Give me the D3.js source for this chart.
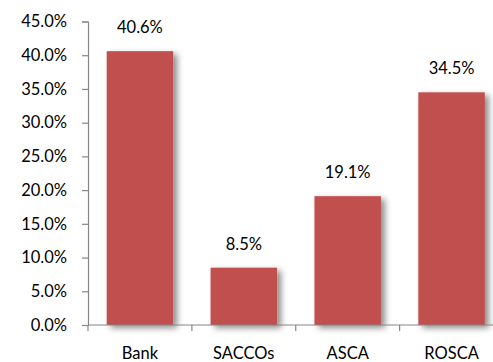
<!DOCTYPE html>
<html>
<head>
<meta charset="utf-8">
<script src="https://cdn.jsdelivr.net/npm/d3@7"></script>
<style>
  html, body { margin: 0; padding: 0; background: #fff; }
  svg { display: block; }
  text { font-family: Lato, "Open Sans", sans-serif; fill: #000; }
</style>
</head>
<body>
<svg id="chart" width="493" height="362"></svg>
<script>
// Share of respondents by savings channel
const categories = ["Bank", "SACCOs", "ASCA", "ROSCA"];
const shares = [40.6, 8.5, 19.1, 34.5];
const yTicks = [0, 5, 10, 15, 20, 25, 30, 35, 40, 45];

const svg = d3.select("#chart");
const margin = { left: 88, top: 21.5, bottom: 325 };
const plotRight = 503.5;
const fontSize = 16.5;

const x = d3.scaleBand()
  .domain(categories)
  .range([margin.left, plotRight])
  .paddingInner(0.36)
  .paddingOuter(0.18);

const y = d3.scaleLinear()
  .domain([0, 45])
  .range([margin.bottom, margin.top]);

// soft drop shadow behind each bar
const defs = svg.append("defs");
const f = defs.append("filter").attr("id", "barShadow")
  .attr("x", "-20%").attr("y", "-20%").attr("width", "150%").attr("height", "150%");
f.append("feDropShadow")
  .attr("dx", 4).attr("dy", 3).attr("stdDeviation", 3)
  .attr("flood-color", "#000").attr("flood-opacity", 0.45);

const axisColor = "#868686";

// y axis
const yAxis = svg.append("g")
  .attr("transform", `translate(${margin.left},0)`)
  .call(d3.axisLeft(y).tickValues(yTicks).tickSize(6).tickPadding(15)
    .tickFormat(d => d.toFixed(1) + "%"));
yAxis.select(".domain").attr("stroke", axisColor).attr("stroke-width", 1.2);
yAxis.selectAll(".tick line").attr("stroke", axisColor).attr("stroke-width", 1.2);
yAxis.selectAll(".tick text")
  .attr("font-size", fontSize).attr("fill", "#000")
  .style("font-family", "Lato, 'Open Sans', sans-serif");

// bars
svg.append("g").selectAll("rect")
  .data(categories.map((c, i) => ({ c, v: shares[i] })))
  .join("rect")
  .attr("x", d => x(d.c))
  .attr("y", d => y(d.v))
  .attr("width", x.bandwidth())
  .attr("height", d => y(0) - y(d.v))
  .attr("fill", "#C0504D")
  .attr("filter", "url(#barShadow)");

// x axis with ticks between categories
const xg = svg.append("g").attr("transform", `translate(0,${margin.bottom})`);
xg.append("line")
  .attr("x1", margin.left).attr("x2", plotRight)
  .attr("stroke", axisColor).attr("stroke-width", 1.2);
const boundaries = d3.range(categories.length + 1).map(i => margin.left + (plotRight - margin.left) * i / categories.length);
xg.selectAll("line.tick")
  .data(boundaries)
  .join("line")
  .attr("class", "tick")
  .attr("x1", d => d).attr("x2", d => d)
  .attr("y1", 0).attr("y2", 6)
  .attr("stroke", axisColor).attr("stroke-width", 1.2);
xg.selectAll("text")
  .data(categories)
  .join("text")
  .attr("x", d => x(d) + x.bandwidth() / 2)
  .attr("y", 34)
  .attr("text-anchor", "middle")
  .attr("font-size", fontSize)
  .text(d => d);

// value labels above bars
svg.append("g").selectAll("text")
  .data(categories.map((c, i) => ({ c, v: shares[i] })))
  .join("text")
  .attr("x", d => x(d.c) + x.bandwidth() / 2)
  .attr("y", d => y(d.v) - 18)
  .attr("text-anchor", "middle")
  .attr("font-size", fontSize)
  .text(d => d.v.toFixed(1) + "%");
</script>
</body>
</html>
